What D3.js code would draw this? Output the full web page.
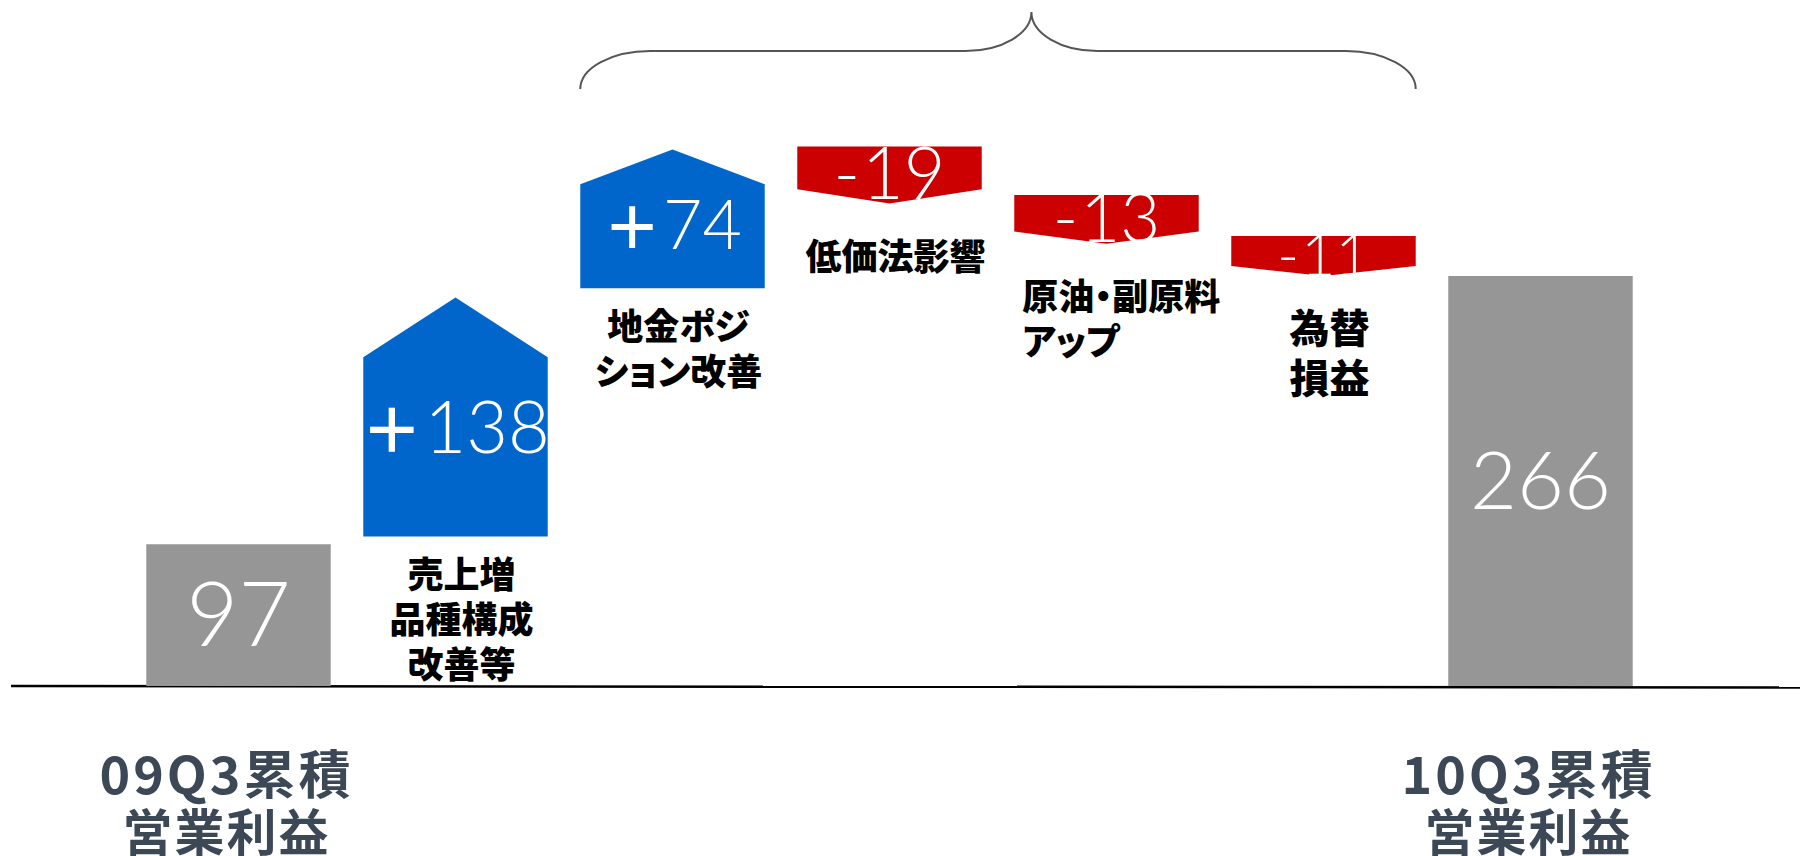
<!DOCTYPE html>
<html>
<head>
<meta charset="utf-8">
<script src="https://cdn.jsdelivr.net/npm/d3@7"></script>
<style>
html,body{margin:0;padding:0;background:#ffffff;overflow:hidden}
.cat{font-feature-settings:"palt" 1;}
</style>
</head>
<body>
<svg id="chart" width="1800" height="856"></svg>
<script>
// ---------------- DATA ----------------
const categories = ["09Q3累積営業利益", "売上増品種構成改善等", "地金ポジション改善", "低価法影響", "原油・副原料アップ", "為替損益", "10Q3累積営業利益"];
const labelLines = [["09Q3累積", "営業利益"], ["売上増", "品種構成", "改善等"], ["地金ポジ", "ション改善"], ["低価法影響"], ["原油・副原料", "アップ"], ["為替", "損益"], ["10Q3累積", "営業利益"]];
const values = [97, 138, 74, -19, -13, -11, 266];
const valueText = ["97", "138", "74", "19", "13", "11", "266"];
const kinds = ["total", "up", "up", "down", "down", "down", "total"];
// levels at which each mark is drawn in the picture (the original is not to scale)
const drawnFrom = [0, 97, 258, 350, 318.5, 292, 0];
const drawnTo = [92, 252, 348, 313, 287, 266, 266];

// ---------------- STYLE ----------------
const W = 1800, H = 856;
const colors = { total: "#969696", up: "#0066cc", down: "#cc0000" };
const valueFontSize = [90, 72, 68, 72, 69, 59, 81];
const numFont = "Lato, 'Open Sans', sans-serif";
const cjkFont = "'Noto Sans CJK JP', sans-serif";

const svg = d3.select("#chart");

const x = d3.scaleBand().domain(categories).range([130, 1649]).paddingInner(0.15).paddingOuter(0.075);
const y = d3.scaleLinear().domain([0, 266]).range([686, 276]);
const bw = x.bandwidth();

const rows = categories.map((c, i) => ({
  cat: c, i, kind: kinds[i], value: values[i], text: valueText[i],
  from: drawnFrom[i], to: drawnTo[i], lines: labelLines[i], fs: valueFontSize[i]
}));

// baseline
svg.append("line")
  .attr("x1", 11).attr("x2", W)
  .attr("y1", y(0)).attr("y2", y(0) + 1.5)
  .attr("stroke", "#000").attr("stroke-width", 2.5);

// brace over the adjustment items
(function () {
  const xL = x(categories[2]);
  const xR = x(categories[5]) + bw;
  const xm = xL + 0.54 * (xR - xL);
  const yEnd = 89, yMid = 51, yTop = 12;
  const r1 = 70, r2 = 66;
  const p = `M${xL},${yEnd} A${r1},${yEnd - yMid} 0 0 1 ${xL + r1},${yMid}` +
    ` L${xm - r2},${yMid} A${r2},${yMid - yTop} 0 0 0 ${xm},${yTop}` +
    ` A${r2},${yMid - yTop} 0 0 0 ${xm + r2},${yMid}` +
    ` L${xR - r1},${yMid} A${r1},${yEnd - yMid} 0 0 1 ${xR},${yEnd}`;
  svg.append("path").attr("d", p).attr("fill", "none").attr("stroke", "#555").attr("stroke-width", 2);
})();

// marks
function shapePath(d) {
  const x0 = x(d.cat), x1 = x0 + bw, xc = x0 + bw / 2;
  const a = y(d.from), b = y(d.to);
  if (d.kind === "total") {
    return `M${x0},${a}L${x0},${b}L${x1},${b}L${x1},${a}Z`;
  }
  if (d.kind === "up") {
    const sh = b + 0.25 * (a - b);
    return `M${x0},${a}L${x0},${sh}L${xc},${b}L${x1},${sh}L${x1},${a}Z`;
  }
  const side = b - 0.25 * (b - a);
  return `M${x0},${a}L${x1},${a}L${x1},${side}L${xc},${b}L${x0},${side}Z`;
}

svg.append("g").selectAll("path").data(rows).join("path")
  .attr("d", shapePath)
  .attr("fill", d => colors[d.kind]);

// value labels
const vl = svg.append("g").selectAll("text").data(rows).join("text")
  .attr("x", d => x(d.cat) + bw / 2)
  .attr("y", d => {
    const a = y(d.from), b = y(d.to);
    let c;
    if (d.kind === "total") c = (a + b) / 2;
    else if (d.kind === "up") c = b + 0.545 * (a - b);
    else c = a + 0.48 * (b - a);
    return c + 0.345 * d.fs;
  })
  .attr("text-anchor", "middle")
  .attr("fill", "#fff")
  .attr("font-family", numFont)
  .attr("font-weight", 300)
  .attr("font-size", d => d.fs);

vl.each(function (d) {
  const t = d3.select(this);
  if (d.kind === "up") {
    t.append("tspan").attr("font-family", cjkFont).attr("font-weight", 700)
      .attr("font-size", d.fs * 0.85).text("＋");
    t.append("tspan").attr("dx", 2).text(d.text);
  } else if (d.kind === "down") {
    t.append("tspan").text("-");
    t.append("tspan").attr("dx", 2).text(d.text);
  } else {
    t.text(d.text);
  }
});

// category labels under the floating marks
const cl = svg.append("g").selectAll("g").data(rows.filter(d => d.kind !== "total")).join("g");
cl.each(function (d) {
  const g = d3.select(this);
  const low = Math.max(y(d.from), y(d.to));
  const fs = d.i === 5 ? 40 : 36;
  const pitch = fs * 1.25;
  const gap = d.kind === "up" ? 36 : 50;
  const leftAligned = d.i === 4;
  d.lines.forEach((ln, k) => {
    g.append("text")
      .attr("class", "cat")
      .attr("x", leftAligned ? x(d.cat) + 8 : x(d.cat) + bw / 2 + 6)
      .attr("y", low + gap + k * pitch)
      .attr("dominant-baseline", "central")
      .attr("text-anchor", leftAligned ? "start" : "middle")
      .attr("font-family", cjkFont)
      .attr("font-weight", 900)
      .attr("font-size", fs)
      .attr("fill", "#000")
      .text(ln);
  });
});

// axis labels under totals
const tl = svg.append("g").selectAll("g").data(rows.filter(d => d.kind === "total")).join("g");
tl.each(function (d) {
  const g = d3.select(this);
  const cx = x(d.cat) + bw / 2 - 12;
  g.append("text")
    .attr("x", cx).attr("y", y(0) + 85)
    .attr("dominant-baseline", "central").attr("text-anchor", "middle")
    .attr("font-family", cjkFont).attr("font-weight", 700).attr("font-size", 52)
    .attr("letter-spacing", 3)
    .attr("fill", "#3c4856").text(d.lines[0]);
  g.append("text")
    .attr("x", cx).attr("y", y(0) + 143)
    .attr("dominant-baseline", "central").attr("text-anchor", "middle")
    .attr("font-family", cjkFont).attr("font-weight", 700).attr("font-size", 50)
    .attr("letter-spacing", 2)
    .attr("fill", "#3c4856").text(d.lines[1]);
});
</script>
</body>
</html>
